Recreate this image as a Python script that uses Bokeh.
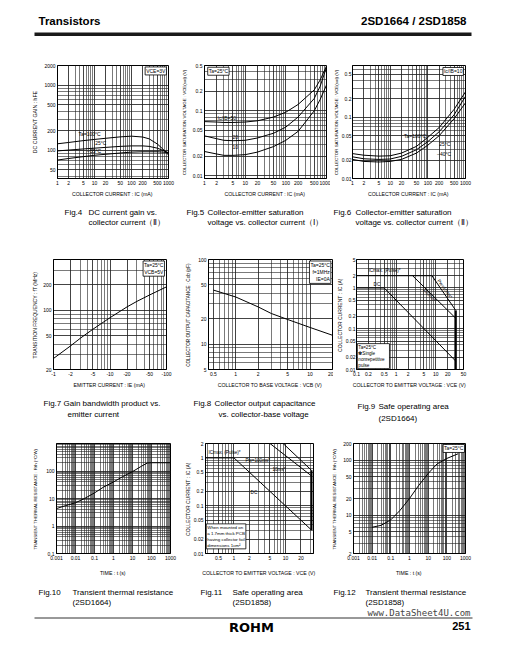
from bokeh.plotting import figure
from bokeh.layouts import column, row
from bokeh.models import Range1d, FixedTicker, Label
from bokeh.core.properties import value
from bokeh.embed import file_html
from bokeh.resources import INLINE

FONT = "Liberation Sans"

# ---------------- data ----------------
# Fig.4  DC current gain vs collector current (VCE=3V)
fig4_ic = [1, 2, 5, 10, 20, 50, 100, 200, 300, 500, 700, 1000]
fig4_hfe_100 = [126, 132, 141, 147, 153, 161, 165, 160, 150, 125, 105, 85]
fig4_hfe_25 = [98, 101, 105, 108, 111, 115, 117, 117, 115, 108, 100, 92]
fig4_hfe_m55 = [71, 75, 80, 84, 87, 91, 94, 95, 95, 95, 94, 92]

# Fig.5  VCE(sat) vs IC, Ta=25C, IC/IB = 50, 20, 10
fig5_ic = [1, 2, 3, 5, 10, 20, 50, 100, 200, 500, 700, 1000]
fig5_v50 = [0.068, 0.067, 0.066, 0.066, 0.067, 0.070, 0.080, 0.095, 0.125, 0.21, 0.30, 0.49]
fig5_v20 = [0.041, 0.037, 0.035, 0.0345, 0.035, 0.038, 0.045, 0.056, 0.080, 0.155, 0.24, 0.47]
fig5_v10 = [0.0235, 0.0215, 0.0205, 0.0205, 0.021, 0.023, 0.028, 0.035, 0.048, 0.10, 0.15, 0.25]

# Fig.6  VCE(sat) vs IC, IC/IB=10, Ta = 100, 25, -40
fig6_ic = [1, 2, 5, 10, 20, 50, 100, 200, 500, 1000]
fig6_v100 = [0.0255, 0.024, 0.0232, 0.0235, 0.026, 0.0335, 0.047, 0.068, 0.135, 0.26]
fig6_v25 = [0.0226, 0.021, 0.0205, 0.0208, 0.023, 0.0295, 0.040, 0.058, 0.11, 0.22]
fig6_vm40 = [0.0205, 0.019, 0.0186, 0.019, 0.0205, 0.026, 0.035, 0.050, 0.095, 0.172]

# Fig.7  fT vs emitter current (magnitude of IE, mA)
fig7_ie = [1, 2, 3, 5, 10, 20, 30, 50, 100]
fig7_ft = [27, 38, 47, 60, 82, 110, 128, 152, 190]

# Fig.8  Cob vs VCB
fig8_vcb = [0.5, 1, 2, 3, 5, 10, 20]
fig8_cob = [43.5, 36, 27.5, 23, 19.5, 15.7, 12.7]

# Fig.9  Safe operating area (2SD1664)
fig9_icmax_v = [0.1, 8]
fig9_icmax_i = [2, 2]
fig9_pw10_v = [8, 32]
fig9_pw10_i = [2, 0.28]
fig9_pw100_v = [2.6, 32]
fig9_pw100_i = [2, 0.18]
fig9_dc_v = [0.1, 0.5, 32]
fig9_dc_i = [1, 1, 0.016]
fig9_vceo_v = [32, 32]
fig9_vceo_i = [0.28, 0.01]

# Fig.10 Transient thermal resistance (2SD1664)
fig10_t = [0.001, 0.003, 0.01, 0.03, 0.1, 0.3, 1, 3, 10, 30, 60, 100, 1000]
fig10_rth = [4.3, 5.5, 7, 10, 16, 26, 40, 62, 95, 150, 195, 200, 200]

# Fig.11 Safe operating area (2SD1858)
fig11_dc_v = [0.28, 1, 32]
fig11_dc_i = [1, 1, 0.031]
fig11_pw100_v = [5, 32]
fig11_pw100_i = [2, 0.42]
fig11_pw10_v = [9, 32]
fig11_pw10_i = [2, 0.55]
fig11_vceo_v = [32, 32]
fig11_vceo_i = [0.55, 0.031]

# Fig.12 Transient thermal resistance (2SD1858)
fig12_t = [0.01, 0.03, 0.1, 0.3, 1, 3, 10, 30, 100, 400]
fig12_rth = [6, 6.5, 8.2, 12, 20, 34, 57, 85, 107, 130]

# tick values and labels
ticks_ic = [1, 2, 5, 10, 20, 50, 100, 200, 500, 1000]
labels_ic = ["1", "2", "5", "10", "20", "50", "100", "200", "500", "1000"]
ticks_hfe = [50, 100, 200, 500, 1000, 2000]
labels_hfe = ["50", "100", "200", "500", "1000", "2000"]
ticks_vsat = [0.01, 0.02, 0.05, 0.1, 0.2, 0.5]
labels_vsat = ["0.01", "0.02", "0.05", "0.1", "0.2", "0.5"]
ticks_ie = [1, 2, 5, 10, 20, 50, 100]
labels_ie = ["-1", "-2", "-5", "-10", "-20", "-50", "-100"]
ticks_ft = [20, 50, 100, 200]
labels_ft = ["20", "50", "100", "200"]
ticks_vcb = [0.5, 1, 2, 5, 10, 20]
labels_vcb = ["0.5", "1", "2", "5", "10", "20"]
ticks_cob = [5, 10, 20, 50, 100]
labels_cob = ["5", "10", "20", "50", "100"]
ticks_vce9 = [0.1, 0.2, 0.5, 1, 2, 5, 10, 20, 50]
labels_vce9 = ["0.1", "0.2", "0.5", "1", "2", "5", "10", "20", "50"]
ticks_ic9 = [0.01, 0.02, 0.05, 0.1, 0.2, 0.5, 1, 2, 5]
labels_ic9 = ["0.01", "0.02", "0.05", "0.1", "0.2", "0.5", "1", "2", "5"]
ticks_time = [0.001, 0.01, 0.1, 1, 10, 100, 1000]
labels_time = ["0.001", "0.01", "0.1", "1", "10", "100", "1000"]
ticks_rth10 = [0.1, 1, 10, 100]
labels_rth10 = ["0.1", "1", "10", "100"]
ticks_vce11 = [0.5, 1, 2, 5, 10, 20]
labels_vce11 = ["0.5", "1", "2", "5", "10", "20"]
ticks_ic11 = [0.01, 0.02, 0.05, 0.1, 0.2, 0.5, 1, 2]
labels_ic11 = ["0.01", "0.02", "0.05", "0.1", "0.2", "0.5", "1", "2"]
ticks_rth12 = [2, 5, 10, 20, 50, 100, 200]
labels_rth12 = ["2", "5", "10", "20", "50", "100", "200"]

# captions
cap4 = ["Fig.4", "DC current gain vs.", "collector current（Ⅱ）"]
cap5 = ["Fig.5", "Collector-emitter saturation", "voltage vs. collector current（Ⅰ）"]
cap6 = ["Fig.6", "Collector-emitter saturation", "voltage vs. collector current（Ⅱ）"]
cap7 = ["Fig.7", "Gain bandwidth product vs.", "emitter current"]
cap8 = ["Fig.8", "Collector output capacitance", "vs. collector-base voltage"]
cap9 = ["Fig.9", "Safe operating area", "(2SD1664)"]
cap10 = ["Fig.10", "Transient thermal resistance", "(2SD1664)"]
cap11 = ["Fig.11", "Safe operating area", "(2SD1858)"]
cap12 = ["Fig.12", "Transient thermal resistance", "(2SD1858)"]

PAGE_W = 505


# ---------------- helpers ----------------
def log_grid(lo, hi):
    out = []
    for e in range(-4, 5):
        for m in range(1, 10):
            v = float(f"{m}e{e}")
            if lo * (1 - 1e-9) <= v <= hi * (1 + 1e-9):
                out.append(v)
    return out


def chart(w, h, bl, br, bt, bb, xr, yr, xt, xl, yt, yl, xlabel, ylabel,
          xs=3, ys=3, ylab_size="5px", xlab_size="5.2px", ystand=2):
    p = figure(width=w, height=h, x_axis_type="log", y_axis_type="log",
               x_range=Range1d(*xr), y_range=Range1d(*yr),
               output_backend="svg", toolbar_location=None,
               min_border_left=bl, min_border_right=br,
               min_border_top=bt, min_border_bottom=bb)
    p.background_fill_color = "white"
    p.border_fill_color = "white"
    p.outline_line_color = "black"
    p.outline_line_width = 1
    xtick = FixedTicker(ticks=xt, minor_ticks=log_grid(*xr))
    ytick = FixedTicker(ticks=yt, minor_ticks=log_grid(*yr))
    for ax, tk, labels, lab, size, stand in (
            (p.xaxis[0], xtick, xl, xlabel, xlab_size, xs),
            (p.yaxis[0], ytick, yl, ylabel, ylab_size, ys)):
        ax.ticker = tk
        ax.major_label_overrides = {t: s for t, s in zip(tk.ticks, labels)}
        ax.major_tick_in = 0
        ax.major_tick_out = 0
        ax.minor_tick_in = 0
        ax.minor_tick_out = 0
        ax.axis_line_color = "black"
        ax.axis_line_width = 1
        ax.major_label_text_font = FONT
        ax.major_label_text_font_size = "5px"
        ax.major_label_text_color = "black"
        ax.major_label_standoff = 2
        ax.axis_label = lab
        ax.axis_label_text_font = FONT
        ax.axis_label_text_font_style = "normal"
        ax.axis_label_text_font_size = size
        ax.axis_label_text_color = "black"
        ax.axis_label_standoff = stand
    p.yaxis[0].major_label_standoff = ystand
    p.xgrid[0].ticker = xtick
    p.ygrid[0].ticker = ytick
    for g in (p.xgrid[0], p.ygrid[0]):
        g.grid_line_color = "#202020"
        g.grid_line_width = 0.6
        g.minor_grid_line_color = "#202020"
        g.minor_grid_line_width = 0.6
    return p


def lab(p, x, y, text, align="left", baseline="middle", size="5px", box=False, angle=0.0):
    kw = dict(x=x, y=y, text=text, text_font=FONT, text_font_size=size,
              text_align=align, text_baseline=baseline, text_color="black", angle=angle)
    if box:
        kw.update(border_line_color="black", border_line_width=0.8,
                  background_fill_color="white", background_fill_alpha=1.0, padding=1)
    p.add_layout(Label(**kw))


def strip(h):
    p = figure(width=PAGE_W, height=h, x_range=Range1d(0, PAGE_W), y_range=Range1d(h, 0),
               output_backend="svg", toolbar_location=None, min_border=0,
               x_axis_location=None, y_axis_location=None)
    p.grid.visible = False
    p.outline_line_color = None
    p.background_fill_color = "white"
    p.border_fill_color = "white"
    return p


def txt(p, x, y, s, size="8px", align="left", bold=False, font=FONT, color="black", baseline="middle"):
    p.text(x=[x], y=[y], text=[s], text_font=value(font), text_font_size=value(size),
           text_align=align, text_baseline=baseline, text_color=color,
           text_font_style="bold" if bold else "normal")


def caption(p, x_fig, x_txt, y1, y2, cap, x2=None):
    txt(p, x_fig, y1, cap[0])
    txt(p, x_txt, y1, cap[1])
    txt(p, x2 if x2 is not None else x_txt, y2, cap[2])


LW = 1.0

# ---------------- header ----------------
head = strip(48)
txt(head, 38, 20, "Transistors", size="11.5px", bold=True)
txt(head, 466, 20, "2SD1664 / 2SD1858", size="11.5px", bold=True, align="right")
head.quad(left=[34], right=[471], top=[32], bottom=[35.5], color="#1a1a1a", line_color=None)

# ---------------- row 1 ----------------
f4 = chart(176, 156, 57, 8, 17, 23, (1, 1000), (37, 2000), ticks_ic, labels_ic, ticks_hfe, labels_hfe,
           "COLLECTOR CURRENT : IC  (mA)", "DC CURRENT GAIN : hFE", xs=3, ys=3, ylab_size="5.2px")
for ys_ in (fig4_hfe_100, fig4_hfe_25, fig4_hfe_m55):
    f4.line(fig4_ic, ys_, line_color="black", line_width=LW)
lab(f4, 3.7, 178, "Ta=100°C")
lab(f4, 10.5, 131, "25°C")
lab(f4, 6.3, 97, "−55°C")
lab(f4, 880, 1900, "VCE=3V", align="right", baseline="top", box=True)

f5 = chart(154, 156, 28, 4, 16, 23, (1, 1000), (0.009, 0.5), ticks_ic, labels_ic, ticks_vsat, labels_vsat,
           "COLLECTOR CURRENT : IC  (mA)", "COLLECTOR SATURATION VOLTAGE : VCE(sat)  (V)",
           xs=3, ys=3, ylab_size="4.4px")
for ys_ in (fig5_v50, fig5_v20, fig5_v10):
    f5.line(fig5_ic, ys_, line_color="black", line_width=LW)
lab(f5, 1.2, 0.47, "Ta=25°C", baseline="top", box=True)
lab(f5, 2.1, 0.076, "Ic/IB=50")
lab(f5, 4.9, 0.039, "20")
lab(f5, 4.9, 0.028, "10")

f6 = chart(175, 156, 20, 40, 17, 26, (1, 1000), (0.01, 0.7), ticks_ic, labels_ic, ticks_vsat, labels_vsat,
           "COLLECTOR CURRENT : IC  (mA)", "COLLECTOR SATURATION VOLTAGE : VCE(sat)  (V)",
           xs=3, ys=0, ylab_size="4.4px", ystand=1)
for ys_ in (fig6_v100, fig6_v25, fig6_vm40):
    f6.line(fig6_ic, ys_, line_color="black", line_width=LW)
lab(f6, 880, 0.65, "Ic/IB=10", align="right", baseline="top", box=True)
lab(f6, 90, 0.049, "Ta=100°C", align="right")
lab(f6, 200, 0.036, "25°C")
lab(f6, 176, 0.0255, "−40°C")

cap_a = strip(41)
caption(cap_a, 64, 88, 8, 18, cap4)
caption(cap_a, 186, 207, 8, 18, cap5)
caption(cap_a, 333, 355, 8, 18, cap6)

# ---------------- row 2 ----------------
f7 = chart(176, 147, 53, 10, 14, 21, (1, 100), (20, 400), ticks_ie, labels_ie, ticks_ft, labels_ft,
           "EMITTER CURRENT : IE  (mA)", "TRANSITION FREQUENCY : fT  (MHz)", xs=3, ys=2, ylab_size="5px")
f7.line(fig7_ie, fig7_ft, line_color="black", line_width=LW)
lab(f7, 92, 384, "Ta=25°C\nVCB=5V", align="right", baseline="top", box=True)

f8 = chart(157, 147, 32, 1, 14, 23, (0.43, 20), (5, 100), ticks_vcb, labels_vcb, ticks_cob, labels_cob,
           "COLLECTOR TO BASE VOLTAGE : VCB  (V)", "COLLECTOR OUTPUT CAPACITANCE : Cob  (pF)",
           xs=3, ys=4, ylab_size="4.6px")
f8.line(fig8_vcb, fig8_cob, line_color="black", line_width=LW)
lab(f8, 19, 96, "Ta=25°C\nf=1MHz\nIE=0A", align="right", baseline="top", box=True)

f9 = chart(172, 147, 18, 42, 14, 21, (0.1, 50), (0.01, 5), ticks_vce9, labels_vce9, ticks_ic9, labels_ic9,
           "COLLECTOR TO EMITTER VOLTAGE : VCE  (V)", "COLLECTOR CURRENT : IC  (A)",
           xs=3, ys=0, ylab_size="5px", ystand=1)
for xs_, ys_, w_ in ((fig9_icmax_v, fig9_icmax_i, LW), (fig9_pw10_v, fig9_pw10_i, LW),
                     (fig9_pw100_v, fig9_pw100_i, LW), (fig9_dc_v, fig9_dc_i, LW),
                     (fig9_vceo_v, fig9_vceo_i, 2.0)):
    f9.line(xs_, ys_, line_color="black", line_width=w_)
lab(f9, 0.2, 2.75, "ICmax. (Pulse)*", size="4.6px")
lab(f9, 0.27, 1.2, "DC", size="4.6px")
lab(f9, 17, 0.95, "Pw=10ms*", size="4.6px", align="center", angle=-0.96)
lab(f9, 6.8, 0.68, "100ms*", size="4.6px", align="center", angle=-0.8)
lab(f9, 0.105, 0.0105, "Ta=25°C\n✽Single\n   nonrepetitive\n   pulse", size="4.6px",
    baseline="bottom", box=True)

cap_b = strip(38)
caption(cap_b, 43, 63, 11, 22, cap7, x2=67)
caption(cap_b, 193, 214, 11, 22, cap8, x2=218)
caption(cap_b, 357, 378, 14, 26, cap9)

# ---------------- row 3 ----------------
f10 = chart(178, 152, 56, 8, 13, 28, (0.001, 1000), (0.1, 1000), ticks_time, labels_time,
            ticks_rth10, labels_rth10, "TIME : t  (s)", "TRANSIENT THERMAL RESISTANCE : Rth  (°C/W)",
            xs=7, ys=5, ylab_size="4.4px")
f10.line(fig10_t, fig10_rth, line_color="black", line_width=LW)

f11 = chart(151, 152, 27, 16, 12, 27, (0.28, 35), (0.01, 2), ticks_vce11, labels_vce11,
            ticks_ic11, labels_ic11, "COLLECTOR TO EMITTER VOLTAGE : VCE  (V)", "COLLECTOR CURRENT : IC  (A)",
            xs=7, ys=0, ylab_size="5px")
for xs_, ys_, w_ in ((fig11_dc_v, fig11_dc_i, LW), (fig11_pw100_v, fig11_pw100_i, LW),
                     (fig11_pw10_v, fig11_pw10_i, LW), (fig11_vceo_v, fig11_vceo_i, 2.0)):
    f11.line(xs_, ys_, line_color="black", line_width=w_)
lab(f11, 0.32, 1.31, "ICmax. (Pulse)*", size="4.6px")
lab(f11, 1.67, 0.9, "Pw=100ms*", size="4.6px")
lab(f11, 5.6, 0.56, "10ms*", size="4.6px")
lab(f11, 2.1, 0.19, "DC", size="4.6px")
lab(f11, 0.29, 0.0125, "When mounted on\na 1.7mm thick PCB\nhaving collector foil\ndimensions 1cm²",
    size="4.4px", baseline="bottom", box=True)

f12 = chart(176, 152, 22, 40, 12, 29, (0.001, 1000), (2, 200), ticks_time, labels_time,
            ticks_rth12, labels_rth12, "TIME : t  (s)", "TRANSIENT THERMAL RESISTANCE : Rth  (°C/W)",
            xs=7, ys=3, ylab_size="4.4px")
f12.line(fig12_t, fig12_rth, line_color="black", line_width=LW)
lab(f12, 880, 192, "Ta=25°C", align="right", baseline="top", box=True)

foot = strip(64)
caption(foot, 38, 72, 10, 20, cap10)
caption(foot, 200, 232, 10, 20, cap11)
caption(foot, 333, 365, 10, 20, cap12)
foot.line(x=[34, 472], y=[35.5, 35.5], line_color="#333333", line_width=1)
txt(foot, 470, 35, "www.DataSheet4U.com", size="9px", align="right", font="DejaVu Sans Mono",
    color="#444444", baseline="bottom")
txt(foot, 470, 43, "251", size="11px", align="right", bold=True)
txt(foot, 251, 45, "ROHM", size="13px", align="center", bold=True, font="DejaVu Sans")

layout = column(head, row(f4, f5, f6), cap_a, row(f7, f8, f9), cap_b, row(f10, f11, f12), foot)
open("out.html", "w").write(file_html(layout, INLINE))
